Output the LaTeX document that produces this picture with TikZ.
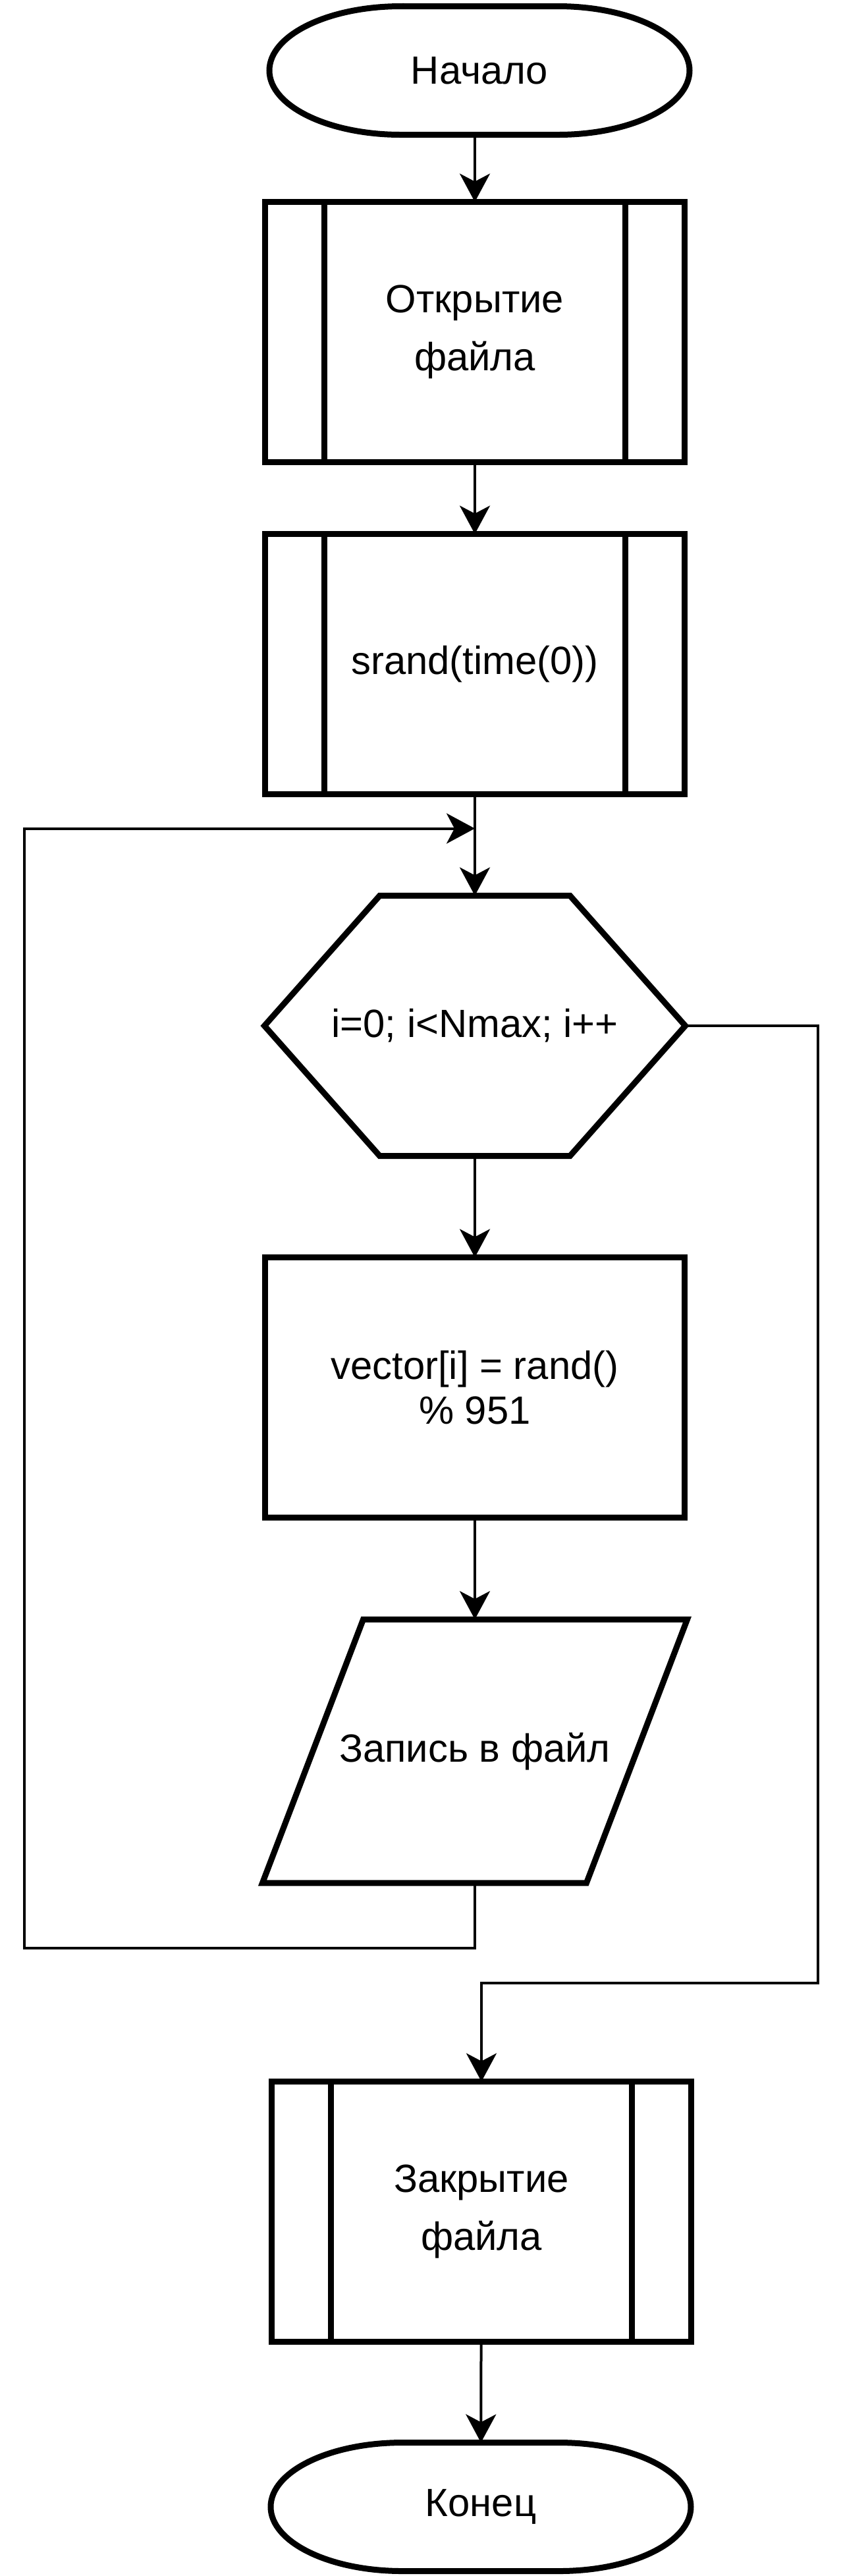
\documentclass[tikz,border=0pt]{standalone}
\usepackage{fontspec}
\setmainfont{Liberation Sans}
\usetikzlibrary{arrows.meta}

\tikzset{
  block/.style={draw, line width=0.09cm, minimum width=6.37cm, minimum height=3.95cm,
    inner sep=0pt, outer sep=0pt, align=center, font=\fontsize{17}{25}\selectfont},
  subproc/.style={block, path picture={
      \draw[line width=0.09cm] ([xshift=0.9cm]path picture bounding box.north west) -- ([xshift=0.9cm]path picture bounding box.south west);
      \draw[line width=0.09cm] ([xshift=-0.9cm]path picture bounding box.north east) -- ([xshift=-0.9cm]path picture bounding box.south east);}},
  outline/.style={block, draw=none},
  border/.style={line width=0.09cm, line join=miter},
  flow/.style={line width=0.04cm, -{Stealth[length=4.3mm,width=4.6mm,inset=1.2mm]}}
}

\begin{document}
\begin{tikzpicture}

  \useasboundingbox (0,0) rectangle (12.8,-39.1);

  \node[outline, minimum height=1.95cm] (start) at (7.28,-1.07) {Начало};
  \node[subproc] (open) at (7.21,-5.04) {Открытие\\файла};
  \node[subproc] (srand) at (7.21,-10.08) {srand(time(0))};
  \coordinate (join) at ([yshift=-0.52cm]srand.south);
  \node[outline, minimum width=6.39cm] (loopcond) at (7.21,-15.57) {i=0; i<Nmax; i++};
  \node[block, font=\fontsize{17}{19.5}\selectfont] (calc) at (7.21,-21.06) {vector[i] = rand()\\\% 951};
  \node[outline, minimum width=6.45cm, minimum height=4cm] (write) at (7.21,-26.58) {Запись в файл};
  \node[subproc] (close) at (7.31,-33.57) {Закрытие\\файла};
  \node[outline, minimum height=1.95cm] (stop) at (7.30,-38.05) {Конец};

  % outlines of the shapes
  \foreach \t in {start,stop}
    \draw[border] ([xshift=-1.19cm]\t.north) -- ([xshift=1.19cm]\t.north)
      arc[start angle=90, end angle=-90, x radius=2cm, y radius=0.975cm]
      -- ([xshift=-1.19cm]\t.south)
      arc[start angle=270, end angle=90, x radius=2cm, y radius=0.975cm] -- cycle;

  \draw[border] (loopcond.west) -- ([xshift=1.75cm]loopcond.north west) -- ([xshift=-1.75cm]loopcond.north east)
    -- (loopcond.east) -- ([xshift=-1.75cm]loopcond.south east) -- ([xshift=1.75cm]loopcond.south west) -- cycle;

  \draw[border] (write.south west) -- ([xshift=1.53cm]write.north west) -- (write.north east)
    -- ([xshift=-1.53cm]write.south east) -- cycle;

  % connectors
  \draw[flow] (start.south -| open.north) -- (open.north);
  \draw[flow] (open) -- (srand);
  \draw[flow] (srand.south) -- (loopcond.north);
  \draw[flow] (loopcond) -- (calc);
  \draw[flow] (calc) -- (write);
  \draw[flow] (write.south) -- ++(0,-0.99) -| ([xshift=-6.84cm]join) -- (join);
  \draw[flow] (loopcond.east) -- ++(2.01,0) |- ([yshift=1.5cm]close.north) -- (close.north);
  \draw[flow] (close) -- (stop);

\end{tikzpicture}
\end{document}
